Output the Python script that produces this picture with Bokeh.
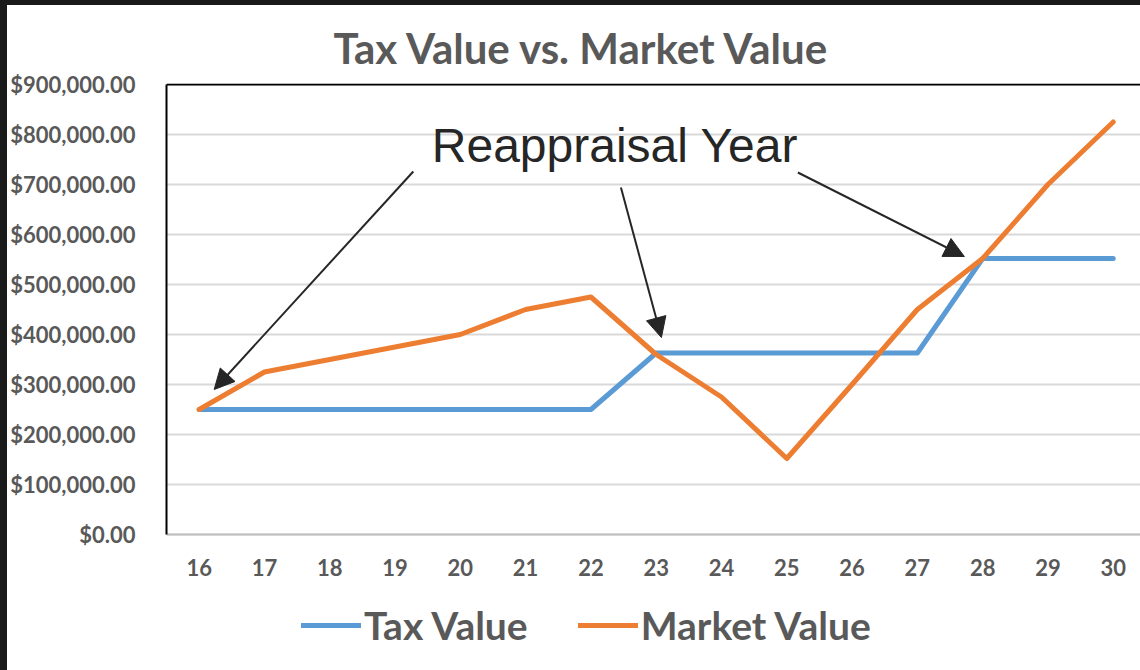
from bokeh.plotting import figure
from bokeh.models import (ColumnDataSource, Legend, LegendItem, Arrow, NormalHead,
                          Label, NumeralTickFormatter, FixedTicker, Span)
from bokeh.embed import file_html
from bokeh.resources import INLINE

# ---- data ----
years = [16, 17, 18, 19, 20, 21, 22, 23, 24, 25, 26, 27, 28, 29, 30]
tax_value = [250000, 250000, 250000, 250000, 250000, 250000, 250000,
             363000, 363000, 363000, 363000, 363000, 552000, 552000, 552000]
market_value = [250000, 325000, 350000, 375000, 400000, 450000, 475000,
                360000, 275000, 152000, 300000, 450000, 552000, 700000, 825000]
y_ticks = [0, 100000, 200000, 300000, 400000, 500000, 600000, 700000, 800000, 900000]
title_text = "Tax Value vs. Market Value"
annot_text = "Reappraisal Year"

GRAY = "#595959"
BLUE = "#5B9BD5"
ORANGE = "#ED7D31"
Y_MAX = y_ticks[-1]

src = ColumnDataSource(dict(x=years, tax=tax_value, mkt=market_value))

p = figure(width=1140, height=670, output_backend="svg", toolbar_location=None,
           x_range=(15.5, 30.525), y_range=(-282000, 902000),
           min_border_left=159, min_border_right=0, min_border_top=78, min_border_bottom=0)
p.styles = {"border-left": "7px solid #1a1a1a", "border-top": "5px solid #1a1a1a"}
p.background_fill_color = "white"
p.border_fill_color = "white"
p.outline_line_color = None

# title
p.title.text = title_text
p.title.text_font = "Lato"
p.title.text_font_style = "bold"
p.title.text_font_size = "42px"
p.title.text_color = GRAY
p.title.align = "left"
p.title.offset = 167
p.title.standoff = 22

# axes
p.xaxis.ticker = FixedTicker(ticks=years)
p.xaxis.fixed_location = 0
p.yaxis.ticker = FixedTicker(ticks=y_ticks)
p.yaxis.bounds = (0, Y_MAX)
p.yaxis.formatter = NumeralTickFormatter(format="$0,0.00")
for ax in (p.xaxis[0], p.yaxis[0]):
    ax.major_tick_line_color = None
    ax.minor_tick_line_color = None
    ax.major_label_text_font = "Lato"
    ax.major_label_text_font_style = "bold"
    ax.major_label_text_font_size = "22px"
    ax.major_label_text_color = GRAY
p.xaxis.axis_line_color = "#bfbfbf"
p.xaxis.axis_line_width = 2
p.xaxis.major_label_standoff = 18
p.yaxis.axis_line_color = "black"
p.yaxis.axis_line_width = 2
p.yaxis.major_label_standoff = 25

p.xgrid.grid_line_color = None
p.ygrid.grid_line_color = "#d9d9d9"
p.ygrid.grid_line_width = 2
p.add_layout(Span(location=Y_MAX, dimension="width", line_color="black", line_width=2))

r_tax = p.line("x", "tax", source=src, line_color=BLUE, line_width=5, line_join="round", line_cap="round")
r_mkt = p.line("x", "mkt", source=src, line_color=ORANGE, line_width=5, line_join="round", line_cap="round")

# annotation
p.add_layout(Label(x=22.37, y=778000, text=annot_text, text_font="Liberation Sans",
                   text_font_size="48px", text_color="#262626",
                   text_align="center", text_baseline="middle"))
starts = [(19.28, 726000), (22.46, 694000), (25.17, 724000)]
ends = [(16.23, 290000), (23.08, 394000), (27.72, 556000)]
for (x0, y0), (x1, y1) in zip(starts, ends):
    p.add_layout(Arrow(x_start=x0, y_start=y0, x_end=x1, y_end=y1,
                       line_color="#262626", line_width=2,
                       end=NormalHead(size=20, fill_color="#262626", line_color="#262626")))

legend = Legend(items=[LegendItem(label="Tax Value", renderers=[r_tax]),
                       LegendItem(label="Market Value", renderers=[r_mkt])],
                orientation="horizontal", location=(135, 27),
                label_text_font="Lato", label_text_font_style="bold",
                label_text_font_size="39px", label_text_color=GRAY,
                glyph_width=60, glyph_height=30, label_standoff=3, spacing=50,
                padding=0, margin=0, border_line_color=None, background_fill_alpha=0)
p.add_layout(legend, "center")

open("out.html", "w").write(file_html(p, INLINE))
